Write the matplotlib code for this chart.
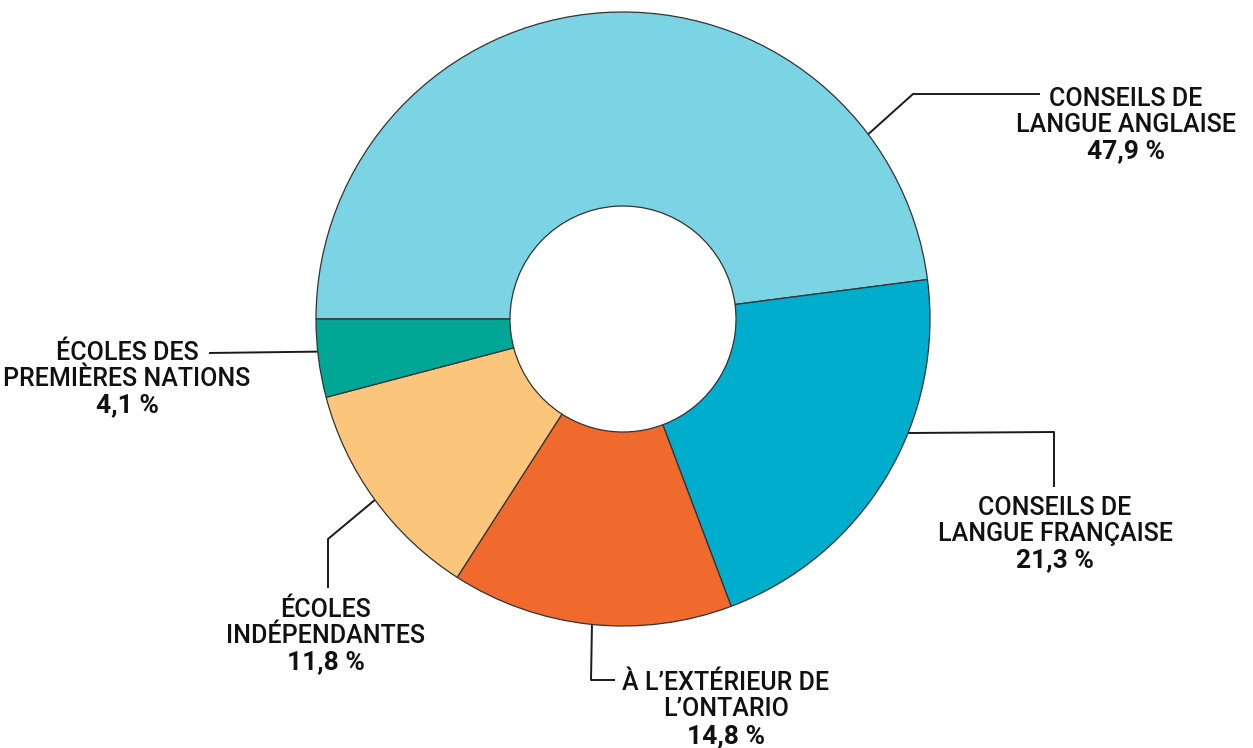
import numpy as np
import matplotlib
matplotlib.use('Agg')
import matplotlib.pyplot as plt

W, H = 1253, 748

# data
labels = [["CONSEILS DE", "LANGUE ANGLAISE"],
          ["CONSEILS DE", "LANGUE FRANÇAISE"],
          ["À L\u2019EXTÉRIEUR DE", "L\u2019ONTARIO"],
          ["ÉCOLES", "INDÉPENDANTES"],
          ["ÉCOLES DES", "PREMIÈRES NATIONS"]]
values = [47.9, 21.3, 14.8, 11.8, 4.1]
pct_labels = ["47,9 %", "21,3 %", "14,8 %", "11,8 %", "4,1 %"]
colors = ["#7AD4E3", "#00ADCC", "#F06A2D", "#FBC57B", "#00A796"]

# layout (image pixel coords, y down)
cx, cy, r_out, r_in = 623, 319, 307, 113
leader_angle = [37.0, -21.8, -95.8, -143.9, -173.9]
leader_pts = [[(913, 94), (1040, 94)],
              [(1054, 432), (1054, 487)],
              [(591, 680), (615, 680)],
              [(328, 539), (328, 588)],
              [(209, 353)]]
text_x = [1126, 1055, 726, 326, 127]
text_base = [[106, 132, 158], [515, 541, 567], [690, 716, 743],
             [617, 643, 669], [360, 386, 412]]


def Y(y):
    return H - y


fig = plt.figure(figsize=(W / 100, H / 100), dpi=100)
ax = fig.add_axes([0, 0, 1, 1])
ax.pie(values, colors=colors, startangle=180, counterclock=False,
       radius=r_out, center=(cx, Y(cy)),
       wedgeprops=dict(width=r_out - r_in, edgecolor='#333333', linewidth=0.9))
ax.set_xlim(0, W)
ax.set_ylim(0, H)
ax.set_aspect('equal')
ax.axis('off')

font = 'Roboto'
for i in range(len(values)):
    a = np.deg2rad(leader_angle[i])
    x0 = cx + r_out * np.cos(a)
    y0 = cy - r_out * np.sin(a)
    xs = [x0] + [p[0] for p in leader_pts[i]]
    ys = [Y(y0)] + [Y(p[1]) for p in leader_pts[i]]
    ax.plot(xs, ys, color='#1a1a1a', lw=1.4, solid_capstyle='butt', zorder=0)

    for line, b in zip(labels[i], text_base[i][:2]):
        ax.text(text_x[i], Y(b), line, ha='center', va='baseline',
                fontsize=18, family=font, weight='medium', color='#111111')
    ax.text(text_x[i], Y(text_base[i][2]), pct_labels[i], ha='center',
            va='baseline', fontsize=19, family=font, weight='bold', color='#111111')

fig.savefig('out.png', dpi=100)
